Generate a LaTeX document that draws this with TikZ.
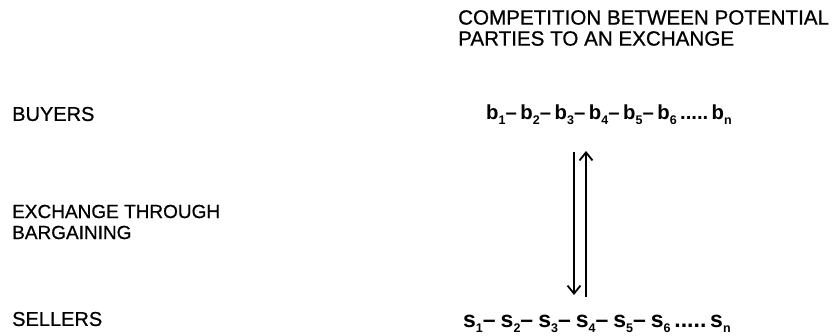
\documentclass[tikz,border=0pt]{standalone}
\usepackage{fontspec}
\setmainfont{Liberation Sans}
\newfontfamily\heavy[FakeBold=0.7]{Liberation Sans}
\usetikzlibrary{arrows.meta}
\newcommand\sbs[1]{\raisebox{-0.45ex}{\fontsize{12.5}{12.5}\selectfont #1}}
\tikzset{
  lbl/.style={anchor=west, inner sep=0pt, font=\heavy\fontsize{20}{21}\selectfont, align=left},
  seq/.style={anchor=west, inner sep=0pt, font=\fontsize{20.3}{22}\selectfont\bfseries},
  conn/.style={line width=1.8pt, -{Straight Barb[length=8pt,width=13pt,line width=1.8pt]}}
}
\begin{document}
\begin{tikzpicture}[x=1pt,y=-1pt]
\useasboundingbox (0,0) rectangle (835,335);
\node[lbl, font=\heavy\fontsize{20.6}{21}\selectfont] (comp) at (458,28) {COMPETITION BETWEEN POTENTIAL\\PARTIES TO AN EXCHANGE};
\node[lbl] (buyers) at (12,114) {BUYERS};
\node[lbl, font=\heavy\fontsize{19}{21}\selectfont] (exch) at (12,222) {EXCHANGE THROUGH\\BARGAINING};
\node[lbl] (sellers) at (12,319) {SELLERS};
\node[seq] (brow) at (486,115) {b\sbs{1}--\kern3.6pt b\sbs{2}--\kern3.6pt b\sbs{3}--\kern3.6pt b\sbs{4}--\kern3.6pt b\sbs{5}--\kern3.6pt b\sbs{6}\,.....\,b\sbs{n}};
\node[seq, font=\fontsize{23}{24}\selectfont\bfseries] (srow) at (463,324) {s\sbs{1}--\kern5pt s\sbs{2}--\kern5pt s\sbs{3}--\kern5pt s\sbs{4}--\kern5pt s\sbs{5}--\kern5pt s\sbs{6}\,.....\,s\sbs{n}};
\coordinate (dtop) at (574,152);
\coordinate (dbot) at (574,295);
\coordinate (ubot) at (586,297);
\coordinate (utop) at (586,151);
\draw[conn] (dtop) -- (dbot);
\draw[conn] (ubot) -- (utop);
\end{tikzpicture}
\end{document}
